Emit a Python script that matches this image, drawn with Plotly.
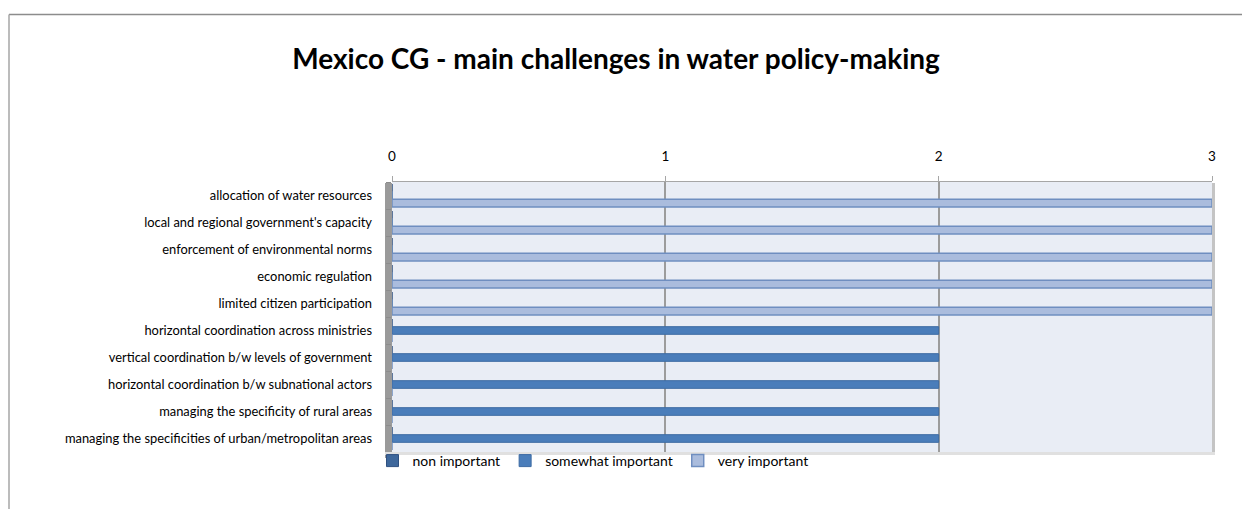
import plotly.graph_objects as go

categories = [
    "allocation of water resources",
    "local and regional government's capacity",
    "enforcement of environmental norms",
    "economic regulation",
    "limited citizen participation",
    "horizontal coordination across ministries",
    "vertical coordination b/w levels of government",
    "horizontal coordination b/w subnational actors",
    "managing the specificity of rural areas",
    "managing the specificities of urban/metropolitan areas",
]
non_important = [0, 0, 0, 0, 0, 0, 0, 0, 0, 0]
somewhat_important = [0, 0, 0, 0, 0, 2, 2, 2, 2, 2]
very_important = [3, 3, 3, 3, 3, 0, 0, 0, 0, 0]
x_ticks = [0, 1, 2, 3]

FONT = "Lato"
OFF = 8  # page body margin
W, H = 1250 - OFF, 509 - OFF
L, T = 392 - OFF, 182 - OFF
R = W - (1212 - OFF)
B = H - (452 - OFF)
PW, PH = W - L - R, H - T - B

def px(x):  # page pixel -> paper
    return (x - OFF - L) / PW

def py(y):
    return (H - B - (y - OFF)) / PH

fig = go.Figure()
fig.add_trace(go.Bar(name="non important", y=categories, x=non_important, orientation="h",
                     marker=dict(color="#3E679B", line=dict(color="#2F5080", width=1))))
fig.add_trace(go.Bar(name="somewhat important", y=categories, x=somewhat_important, orientation="h",
                     marker=dict(color="#4A7DBA", line=dict(color="#3D6BA3", width=1))))
fig.add_trace(go.Bar(name="very important", y=categories, x=very_important, orientation="h",
                     marker=dict(color="#AABCDD", line=dict(color="#6F8EC0", width=1.5))))

shapes = [
    dict(type="line", xref="paper", yref="paper", x0=px(9), x1=px(1252), y0=py(14.5), y1=py(14.5),
         line=dict(color="#8C8C8C", width=1.5)),
    dict(type="line", xref="paper", yref="paper", x0=px(9), x1=px(9), y0=py(14.5), y1=py(512),
         line=dict(color="#A6A6A6", width=1.5)),
    dict(type="rect", xref="paper", yref="paper", x0=px(385), x1=px(392), y0=py(458), y1=py(183),
         fillcolor="#9A9A9A", line=dict(width=0), layer="below"),
    dict(type="rect", xref="paper", yref="paper", x0=px(1212), x1=px(1215), y0=py(455), y1=py(183),
         fillcolor="#C4C4C4", line=dict(width=0), layer="below"),
    dict(type="rect", xref="paper", yref="paper", x0=px(385), x1=px(1215), y0=py(455), y1=py(452),
         fillcolor="#E0E0E0", line=dict(width=0), layer="below"),
]

fig.update_layout(
    width=W, height=H,
    margin=dict(l=L, r=R, t=T, b=B, autoexpand=False),
    paper_bgcolor="white",
    plot_bgcolor="#E9EDF5",
    font=dict(family=FONT, color="#000000", size=13),
    title=dict(text="<b>Mexico CG - main challenges in water policy-making</b>",
               x=(616 - OFF) / W, xref="container", xanchor="center",
               y=1 - (59 - OFF) / H, yref="container", yanchor="middle",
               font=dict(family=FONT, size=28, color="#000000")),
    barmode="group",
    bargap=0.15,
    bargroupgap=0.0,
    showlegend=True,
    legend=dict(orientation="h", x=px(593), xanchor="center", y=py(445), yanchor="top",
                font=dict(family=FONT, size=14), traceorder="normal",
                itemwidth=30, tracegroupgap=0, bgcolor="rgba(0,0,0,0)"),
    shapes=shapes,
)

fig.update_xaxes(
    side="top", range=[0, 3], tickvals=x_ticks, ticktext=[str(v) for v in x_ticks],
    showgrid=True, gridcolor="#9C9C9C", gridwidth=1.5, zeroline=False,
    showline=True, linecolor="#A6A6A6", linewidth=1,
    ticks="outside", ticklen=5, tickcolor="#A6A6A6",
    tickfont=dict(family=FONT, size=13.5), ticklabelstandoff=10,
)
fig.update_yaxes(
    categoryorder="array", categoryarray=categories, autorange="reversed",
    showgrid=False, zeroline=False, showline=False,
    ticks="outside", ticklen=5, tickcolor="#8C8C8C", tickson="boundaries",
    tickfont=dict(family=FONT, size=12.9), ticklabelstandoff=19,
)

fig.write_html("out.html")
